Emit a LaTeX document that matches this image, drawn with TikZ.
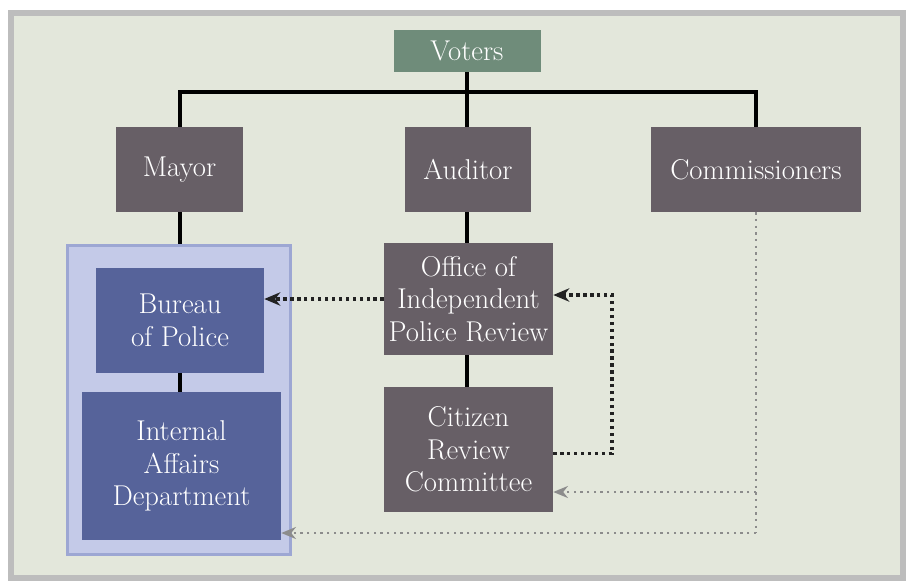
\documentclass[tikz,border=0pt]{standalone}
\usetikzlibrary{arrows.meta}
\definecolor{bgfill}{HTML}{E3E7DB}
\definecolor{frame}{HTML}{BDBDBD}
\definecolor{votergreen}{HTML}{6F8C7A}
\definecolor{darkbox}{HTML}{675F66}
\definecolor{bluebox}{HTML}{56639A}
\definecolor{contfill}{HTML}{C4CAE8}
\definecolor{contdraw}{HTML}{9DA7D3}
\definecolor{dotgray}{HTML}{8C8C8C}
\definecolor{dotblack}{HTML}{222222}
\begin{document}
\begin{tikzpicture}[x=0.75pt,y=-0.75pt,
  boxtext/.style={text=white, align=center, font=\fontsize{21.5}{24.5}\selectfont, inner sep=0pt},
  votebox/.style={boxtext, fill=votergreen},
  graybox/.style={boxtext, fill=darkbox},
  bluecell/.style={boxtext, fill=bluebox},
  solidline/.style={line width=2.6pt, black},
  blackdots/.style={dotblack, line width=2.5pt, dash pattern=on 2.5pt off 2.7pt, -{Stealth[length=12pt,width=10pt]}},
  graydots/.style={dotgray, line width=1.7pt, dash pattern=on 1.7pt off 3.3pt}
]
\useasboundingbox (0,0) rectangle (908,582);
\fill[white] (0,0) rectangle (908,582);
\draw[frame, fill=bgfill, line width=4.5pt] (11,13) rectangle (903,578);

% container
\node[draw=contdraw, fill=contfill, line width=2.2pt, minimum width=167.5pt, minimum height=232pt, inner sep=0pt] (cont) at (179,400) {};

\node[votebox, minimum width=110.25pt, minimum height=31.5pt] (voters) at (467,51) {Voters};
\node[graybox, minimum width=95.25pt, minimum height=63.75pt] (mayor) at (179.5,169.5) {Mayor};
\node[graybox, minimum width=94.5pt, minimum height=63.75pt] (auditor) at (468,169.5) {Auditor};
\node[graybox, minimum width=157.5pt, minimum height=63.75pt] (comm) at (756,169.5) {Commissioners};
\node[bluecell, minimum width=126pt, minimum height=78.75pt] (bureau) at (180,320.5) {Bureau\\of Police};
\node[bluecell, minimum width=149.25pt, minimum height=111pt] (iad) at (181.5,466) {Internal\\Affairs\\Department};
\node[graybox, minimum width=126.75pt, minimum height=84pt] (oipr) at (468.5,299) {Office of\\Independent\\Police Review};
\node[graybox, minimum width=126.75pt, minimum height=93.75pt] (crc) at (468.5,449.5) {Citizen\\Review\\Committee};

% solid connectors
\coordinate (bus) at (467,92);
\coordinate (lcol) at (180,0);
\coordinate (mcol) at (467,0);
\draw[solidline] (voters.south -| mcol) -- (auditor.north -| mcol);
\draw[solidline] (mayor.north -| lcol) -- (lcol |- bus) -- (comm.north |- bus) -- (comm.north);
\draw[solidline] (mayor.south -| lcol) -- (cont.north -| lcol);
\draw[solidline] (bureau.south -| lcol) -- (iad.north -| lcol);
\draw[solidline] (auditor.south -| mcol) -- (oipr.north -| mcol);
\draw[solidline] (oipr.south -| mcol) -- (crc.north -| mcol);

% dotted black
\draw[blackdots] (oipr.west) -- (bureau.east |- oipr.west);
\coordinate (rloop) at (612,375);
\draw[blackdots] ([yshift=-3pt]crc.east) -| (rloop) |- ([yshift=3pt]oipr.east);

% dotted gray
\coordinate (gcorner) at (756,533);
\coordinate (gmid) at (756,492);
\draw[graydots] (comm.south) -- (gcorner);
\draw[graydots, -{Stealth[length=11pt,width=9pt]}] (gcorner) -- (iad.east |- gcorner);
\draw[graydots, -{Stealth[length=11pt,width=9pt]}] (gmid) -- (crc.east |- gmid);
\end{tikzpicture}
\end{document}
